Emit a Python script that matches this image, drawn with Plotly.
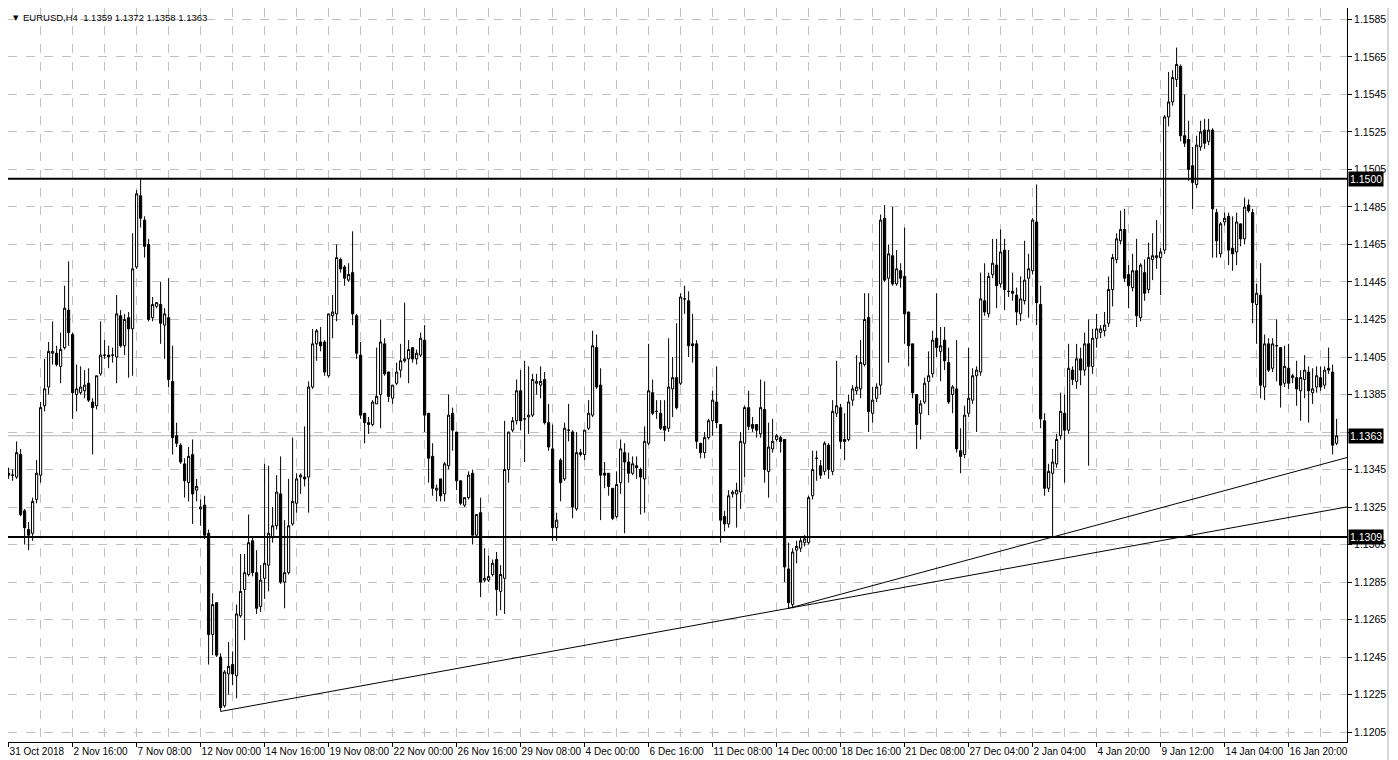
import plotly.graph_objects as go

# ---------------- data (EURUSD H4, one value per bar) ----------------
open_ = [
1.1343,1.1342,1.1341,1.1353,1.1323,1.1313,1.1311,1.1329,1.1342,1.1379,
1.1389,1.1407,1.1407,1.1400,1.1410,1.1430,1.1417,1.1385,1.1386,1.1387,
1.1391,1.1381,1.1379,1.1396,1.1406,1.1406,1.1406,1.1405,1.1427,1.1411,
1.1426,1.1420,1.1453,1.1491,1.1478,1.1465,1.1426,1.1432,1.1433,1.1422,
1.1426,1.1392,1.1363,1.1358,1.1348,1.1338,1.1353,1.1334,1.1324,1.1326,
1.1311,1.1257,1.1274,1.1245,1.1219,1.1236,1.1241,1.1235,1.1267,1.1281,
1.1289,1.1307,1.1290,1.1272,1.1287,1.1294,1.1309,1.1315,1.1332,1.1285,
1.1290,1.1316,1.1327,1.1341,1.1341,1.1341,1.1389,1.1412,1.1413,1.1413,
1.1395,1.1427,1.1428,1.1457,1.1453,1.1446,1.1450,1.1427,1.1406,1.1375,
1.1369,1.1369,1.1380,1.1385,1.1412,1.1397,1.1383,1.1391,1.1398,1.1403,
1.1404,1.1410,1.1404,1.1406,1.1414,1.1375,1.1352,1.1334,1.1340,1.1332,
1.1347,1.1375,1.1365,1.1339,1.1326,1.1330,1.1343,1.1310,1.1322,1.1286,
1.1286,1.1289,1.1297,1.1280,1.1287,1.1345,1.1366,1.1371,1.1387,1.1372,
1.1373,1.1374,1.1391,1.1390,1.1393,1.1370,1.1356,1.1314,1.1350,1.1340,
1.1366,1.1365,1.1324,1.1353,1.1353,1.1367,1.1374,1.1410,1.1390,1.1343,
1.1343,1.1335,1.1320,1.1338,1.1354,1.1349,1.1343,1.1347,1.1345,1.1340,
1.1359,1.1386,1.1376,1.1375,1.1368,1.1367,1.1388,1.1394,1.1391,1.1436,
1.1435,1.1412,1.1412,1.1359,1.1354,1.1362,1.1371,1.1381,1.1369,1.1320,
1.1316,1.1332,1.1332,1.1333,1.1359,1.1378,1.1369,1.1369,1.1364,1.1377,
1.1344,1.1356,1.1361,1.1362,1.1361,1.1292,1.1273,1.1302,1.1303,1.1306,
1.1306,1.1331,1.1351,1.1347,1.1344,1.1358,1.1344,1.1375,1.1378,1.1361,
1.1361,1.1382,1.1387,1.1388,1.1401,1.1426,1.1375,1.1383,1.1390,1.1479,
1.1447,1.1459,1.1444,1.1451,1.1448,1.1429,1.1412,1.1385,1.1375,1.1381,
1.1392,1.1396,1.1415,1.1408,1.1414,1.1402,1.1385,1.1388,1.1355,1.1353,
1.1375,1.1382,1.1395,1.1397,1.1435,1.1428,1.1449,1.1454,1.1444,1.1462,
1.1440,1.1440,1.1438,1.1428,1.1435,1.1447,1.1451,1.1477,1.1433,1.1371,
1.1335,1.1343,1.1348,1.1363,1.1375,1.1366,1.1398,1.1392,1.1404,1.1398,
1.1412,1.1400,1.1415,1.1418,1.1419,1.1423,1.1441,1.1457,1.1467,1.1473,
1.1449,1.1442,1.1451,1.1426,1.1450,1.1441,1.1457,1.1458,1.1458,1.1462,
1.1533,1.1541,1.1553,1.1560,1.1523,1.1521,1.1507,1.1497,1.1517,1.1526,
1.1520,1.1526,1.1482,1.1460,1.1477,1.1480,1.1463,1.1461,1.1476,1.1468,
1.1486,1.1482,1.1433,1.1438,1.1389,1.1412,1.1399,1.1411,1.1410,1.1391,
1.1399,1.1394,1.1394,1.1387,1.1393,1.1397,1.1386,1.1389,1.1394,1.1390,
1.1399,1.1397,1.1359]
high = [
1.1346,1.1345,1.1360,1.1356,1.1324,1.1317,1.1330,1.1350,1.1381,1.1404,
1.1413,1.1424,1.1411,1.1418,1.1443,1.1456,1.1418,1.1401,1.1400,1.1398,
1.1399,1.1383,1.1395,1.1424,1.1414,1.1411,1.1410,1.1438,1.1430,1.1428,
1.1429,1.1471,1.1494,1.1500,1.1480,1.1468,1.1437,1.1434,1.1445,1.1431,
1.1447,1.1411,1.1370,1.1359,1.1351,1.1357,1.1361,1.1340,1.1329,1.1331,
1.1313,1.1279,1.1274,1.1247,1.1238,1.1253,1.1248,1.1273,1.1300,1.1300,
1.1321,1.1309,1.1302,1.1294,1.1348,1.1347,1.1325,1.1342,1.1352,1.1318,
1.1340,1.1362,1.1343,1.1343,1.1368,1.1392,1.1420,1.1420,1.1421,1.1414,
1.1428,1.1438,1.1465,1.1458,1.1454,1.1455,1.1472,1.1428,1.1413,1.1375,
1.1373,1.1382,1.1410,1.1425,1.1415,1.1397,1.1390,1.1402,1.1412,1.1434,
1.1414,1.1410,1.1409,1.1418,1.1422,1.1375,1.1359,1.1337,1.1340,1.1349,
1.1385,1.1378,1.1365,1.1339,1.1330,1.1344,1.1345,1.1321,1.1330,1.1303,
1.1299,1.1297,1.1301,1.1294,1.1371,1.1365,1.1373,1.1393,1.1398,1.1403,
1.1400,1.1396,1.1396,1.1400,1.1397,1.1380,1.1369,1.1322,1.1351,1.1370,
1.1380,1.1366,1.1365,1.1356,1.1366,1.1382,1.1419,1.1417,1.1399,1.1349,
1.1343,1.1335,1.1344,1.1361,1.1359,1.1354,1.1352,1.1352,1.1346,1.1368,
1.1412,1.1393,1.1382,1.1382,1.1382,1.1415,1.1405,1.1423,1.1439,1.1443,
1.1440,1.1428,1.1414,1.1359,1.1365,1.1372,1.1387,1.1400,1.1369,1.1323,
1.1334,1.1334,1.1338,1.1365,1.1379,1.1387,1.1373,1.1369,1.1393,1.1392,
1.1370,1.1372,1.1364,1.1363,1.1361,1.1306,1.1303,1.1307,1.1309,1.1310,
1.1331,1.1355,1.1355,1.1350,1.1360,1.1359,1.1382,1.1403,1.1380,1.1375,
1.1385,1.1390,1.1406,1.1414,1.1439,1.1439,1.1389,1.1391,1.1481,1.1486,
1.1465,1.1485,1.1462,1.1455,1.1474,1.1429,1.1412,1.1385,1.1382,1.1394,
1.1408,1.1419,1.1439,1.1421,1.1421,1.1410,1.1390,1.1414,1.1367,1.1379,
1.1410,1.1399,1.1400,1.1450,1.1455,1.1450,1.1468,1.1468,1.1473,1.1468,
1.1462,1.1450,1.1442,1.1448,1.1467,1.1460,1.1479,1.1497,1.1443,1.1375,
1.1348,1.1356,1.1364,1.1386,1.1385,1.1412,1.1400,1.1412,1.1410,1.1418,
1.1425,1.1420,1.1428,1.1422,1.1429,1.1448,1.1460,1.1471,1.1483,1.1484,
1.1454,1.1460,1.1468,1.1455,1.1457,1.1466,1.1471,1.1478,1.1463,1.1534,
1.1557,1.1558,1.1570,1.1561,1.1545,1.1531,1.1517,1.1523,1.1531,1.1532,
1.1532,1.1527,1.1484,1.1477,1.1482,1.1482,1.1480,1.1482,1.1476,1.1490,
1.1489,1.1484,1.1444,1.1455,1.1417,1.1415,1.1415,1.1425,1.1410,1.1411,
1.1412,1.1396,1.1403,1.1398,1.1406,1.1400,1.1399,1.1400,1.1400,1.1400,
1.1410,1.1401,1.1372]
low = [
1.1340,1.1339,1.1340,1.1320,1.1305,1.1302,1.1307,1.1327,1.1338,1.1376,
1.1385,1.1401,1.1400,1.1391,1.1409,1.1411,1.1372,1.1376,1.1385,1.1383,
1.1381,1.1353,1.1377,1.1395,1.1404,1.1399,1.1402,1.1391,1.1410,1.1406,
1.1394,1.1395,1.1452,1.1474,1.1458,1.1424,1.1424,1.1431,1.1412,1.1404,
1.1389,1.1353,1.1357,1.1348,1.1330,1.1328,1.1316,1.1328,1.1315,1.1308,
1.1241,1.1246,1.1245,1.1216,1.1218,1.1225,1.1230,1.1223,1.1266,1.1254,
1.1288,1.1288,1.1268,1.1269,1.1276,1.1280,1.1306,1.1313,1.1284,1.1271,
1.1289,1.1315,1.1322,1.1332,1.1336,1.1322,1.1388,1.1403,1.1408,1.1395,
1.1394,1.1415,1.1424,1.1450,1.1443,1.1445,1.1422,1.1404,1.1372,1.1359,
1.1364,1.1368,1.1380,1.1367,1.1395,1.1381,1.1380,1.1390,1.1394,1.1402,
1.1391,1.1402,1.1401,1.1405,1.1365,1.1338,1.1331,1.1328,1.1328,1.1328,
1.1345,1.1355,1.1334,1.1326,1.1325,1.1329,1.1305,1.1309,1.1277,1.1285,
1.1285,1.1288,1.1267,1.1270,1.1268,1.1338,1.1365,1.1369,1.1366,1.1349,
1.1364,1.1373,1.1385,1.1383,1.1369,1.1355,1.1307,1.1307,1.1328,1.1339,
1.1360,1.1319,1.1323,1.1352,1.1350,1.1366,1.1373,1.1388,1.1318,1.1335,
1.1331,1.1318,1.1319,1.1332,1.1311,1.1338,1.1342,1.1340,1.1321,1.1322,
1.1358,1.1374,1.1372,1.1366,1.1360,1.1365,1.1373,1.1377,1.1390,1.1428,
1.1405,1.1402,1.1356,1.1351,1.1351,1.1361,1.1363,1.1367,1.1306,1.1312,
1.1314,1.1330,1.1314,1.1324,1.1341,1.1366,1.1365,1.1362,1.1362,1.1338,
1.1330,1.1354,1.1360,1.1354,1.1285,1.1271,1.1271,1.1295,1.1301,1.1304,
1.1305,1.1329,1.1339,1.1340,1.1342,1.1340,1.1342,1.1373,1.1356,1.1350,
1.1360,1.1379,1.1385,1.1383,1.1400,1.1365,1.1370,1.1381,1.1385,1.1445,
1.1402,1.1443,1.1443,1.1442,1.1412,1.1400,1.1383,1.1356,1.1361,1.1380,
1.1374,1.1394,1.1405,1.1392,1.1398,1.1380,1.1375,1.1354,1.1343,1.1351,
1.1373,1.1380,1.1365,1.1395,1.1427,1.1426,1.1447,1.1431,1.1442,1.1430,
1.1437,1.1435,1.1422,1.1424,1.1433,1.1426,1.1449,1.1422,1.1367,1.1331,
1.1333,1.1309,1.1346,1.1361,1.1338,1.1364,1.1390,1.1388,1.1390,1.1395,
1.1347,1.1396,1.1410,1.1415,1.1416,1.1421,1.1432,1.1455,1.1465,1.1445,
1.1431,1.1440,1.1421,1.1424,1.1435,1.1439,1.1446,1.1452,1.1438,1.1460,
1.1528,1.1539,1.1549,1.1520,1.1517,1.1499,1.1484,1.1495,1.1515,1.1516,
1.1518,1.1458,1.1458,1.1458,1.1475,1.1454,1.1451,1.1454,1.1464,1.1465,
1.1482,1.1423,1.1412,1.1383,1.1382,1.1397,1.1397,1.1392,1.1378,1.1389,
1.1388,1.1391,1.1379,1.1371,1.1383,1.1370,1.1380,1.1386,1.1387,1.1388,
1.1396,1.1353,1.1358]
close = [
1.1342,1.1342,1.1354,1.1321,1.1314,1.1310,1.1328,1.1343,1.1378,1.1388,
1.1408,1.1408,1.1401,1.1409,1.1431,1.1418,1.1386,1.1388,1.1389,1.1390,
1.1382,1.1378,1.1395,1.1406,1.1406,1.1405,1.1406,1.1428,1.1411,1.1425,
1.1420,1.1452,1.1492,1.1479,1.1464,1.1425,1.1433,1.1434,1.1423,1.1428,
1.1393,1.1362,1.1359,1.1349,1.1339,1.1352,1.1332,1.1336,1.1325,1.1310,
1.1257,1.1273,1.1246,1.1218,1.1237,1.1240,1.1236,1.1268,1.1280,1.1290,
1.1306,1.1290,1.1271,1.1286,1.1295,1.1311,1.1315,1.1333,1.1285,1.1290,
1.1315,1.1328,1.1340,1.1342,1.1340,1.1389,1.1412,1.1419,1.1411,1.1397,
1.1428,1.1429,1.1458,1.1452,1.1447,1.1449,1.1428,1.1407,1.1374,1.1370,
1.1370,1.1381,1.1384,1.1413,1.1396,1.1384,1.1390,1.1397,1.1403,1.1404,
1.1409,1.1404,1.1407,1.1415,1.1374,1.1351,1.1335,1.1335,1.1331,1.1348,
1.1374,1.1366,1.1339,1.1327,1.1330,1.1342,1.1310,1.1321,1.1285,1.1287,
1.1288,1.1295,1.1281,1.1289,1.1345,1.1365,1.1371,1.1387,1.1371,1.1372,
1.1374,1.1393,1.1392,1.1392,1.1370,1.1357,1.1314,1.1318,1.1338,1.1367,
1.1366,1.1325,1.1354,1.1354,1.1366,1.1375,1.1411,1.1389,1.1342,1.1342,
1.1336,1.1319,1.1337,1.1356,1.1349,1.1343,1.1348,1.1346,1.1341,1.1360,
1.1387,1.1375,1.1376,1.1367,1.1366,1.1389,1.1394,1.1378,1.1437,1.1436,
1.1411,1.1411,1.1360,1.1354,1.1362,1.1371,1.1382,1.1370,1.1318,1.1316,
1.1331,1.1333,1.1334,1.1360,1.1378,1.1368,1.1367,1.1366,1.1378,1.1345,
1.1357,1.1360,1.1363,1.1360,1.1293,1.1274,1.1301,1.1304,1.1307,1.1308,
1.1330,1.1345,1.1351,1.1342,1.1359,1.1345,1.1376,1.1379,1.1360,1.1360,
1.1381,1.1388,1.1389,1.1402,1.1425,1.1376,1.1382,1.1389,1.1478,1.1446,
1.1460,1.1444,1.1452,1.1447,1.1428,1.1411,1.1386,1.1369,1.1380,1.1391,
1.1395,1.1414,1.1410,1.1411,1.1403,1.1381,1.1389,1.1356,1.1352,1.1374,
1.1383,1.1395,1.1398,1.1436,1.1429,1.1448,1.1455,1.1443,1.1461,1.1441,
1.1440,1.1439,1.1429,1.1436,1.1446,1.1452,1.1478,1.1434,1.1372,1.1335,
1.1344,1.1349,1.1361,1.1376,1.1366,1.1399,1.1393,1.1404,1.1398,1.1412,
1.1400,1.1415,1.1420,1.1420,1.1422,1.1441,1.1458,1.1468,1.1473,1.1447,
1.1443,1.1451,1.1427,1.1454,1.1439,1.1458,1.1459,1.1459,1.1461,1.1533,
1.1541,1.1554,1.1561,1.1523,1.1519,1.1505,1.1498,1.1518,1.1525,1.1519,
1.1526,1.1484,1.1467,1.1476,1.1479,1.1462,1.1460,1.1477,1.1468,1.1485,
1.1483,1.1434,1.1439,1.1390,1.1412,1.1398,1.1412,1.1411,1.1390,1.1400,
1.1391,1.1395,1.1388,1.1394,1.1398,1.1387,1.1388,1.1395,1.1389,1.1398,
1.1398,1.1358,1.1363]

# x-axis labels, one every 16 bars
date_labels = ["31 Oct 2018", "2 Nov 16:00", "7 Nov 08:00", "12 Nov 00:00", "14 Nov 16:00",
               "19 Nov 08:00", "22 Nov 00:00", "26 Nov 16:00", "29 Nov 08:00", "4 Dec 00:00",
               "6 Dec 16:00", "11 Dec 08:00", "14 Dec 00:00", "18 Dec 16:00", "21 Dec 08:00",
               "27 Dec 04:00", "2 Jan 04:00", "4 Jan 20:00", "9 Jan 12:00", "14 Jan 04:00",
               "16 Jan 20:00"]
label_step = 16

# price axis ticks
price_ticks = [round(1.1205 + 0.002 * i, 4) for i in range(20)]

# drawn objects
levels = [1.1500, 1.1309]          # horizontal support/resistance lines
bid_price = 1.1363                 # current price line
trend1_bars = [53, 195]
trend1_prices = [1.1216, 1.1271]
trend2_bars = [195, 261]
trend2_prices = [1.1271, 1.1309]
title_text = "EURUSD,H4  1.1359 1.1372 1.1358 1.1363"

# ---------------- figure ----------------
# the page adds an 8px body margin, so the figure is 8px smaller each way
FIG_W, FIG_H = 1390, 752
n = len(close)
bars = list(range(n))
x_start = -0.15
x_end = x_start + 1339 / 4.0

fig = go.Figure()
fig.add_trace(go.Candlestick(
    x=bars, open=open_, high=high, low=low, close=close,
    increasing=dict(line=dict(color="black", width=1), fillcolor="white"),
    decreasing=dict(line=dict(color="black", width=1), fillcolor="black"),
    whiskerwidth=0, showlegend=False, hoverinfo="skip"))


def ray(bx, py):
    slope = (py[1] - py[0]) / (bx[1] - bx[0])
    return [bx[0], x_end], [py[0], py[0] + slope * (x_end - bx[0])]


for bx, py in [(trend1_bars, trend1_prices), (trend2_bars, trend2_prices)]:
    xs, ys = ray(bx, py)
    fig.add_trace(go.Scatter(x=xs, y=ys, mode="lines",
                             line=dict(color="black", width=1),
                             showlegend=False, hoverinfo="skip"))

shapes = [dict(type="line", xref="paper", x0=0, x1=1, yref="y", y0=bid_price, y1=bid_price,
               line=dict(color="#b4b4b4", width=1), layer="below")]
for lv in levels:
    shapes.append(dict(type="line", xref="paper", x0=0, x1=1, yref="y", y0=lv, y1=lv,
                       line=dict(color="black", width=2)))
# right scroll border
shapes.append(dict(type="line", xref="paper", yref="paper", x0=1.0306, x1=1.0306, y0=-0.03, y1=1.02,
                   line=dict(color="#d8d8d8", width=2)))

FAMILY = "Liberation Sans, Arial, sans-serif"
xfont = dict(family=FAMILY, size=10, color="black")
yfont = dict(family=FAMILY, size=10.5, color="black")

annotations = []
for lv in levels + [bid_price]:
    annotations.append(dict(xref="paper", x=1.0, xanchor="left", xshift=1, yref="y", y=lv,
                            yanchor="middle", text=f"{lv:.4f}", showarrow=False,
                            bgcolor="black", font=dict(family=FAMILY, size=10.5, color="white"),
                            borderpad=1))
annotations.append(dict(xref="paper", yref="paper", x=0, y=1, xanchor="left", yanchor="top",
                        xshift=3, yshift=-4, text="▼", showarrow=False,
                        font=dict(family="DejaVu Sans", size=7, color="black")))
annotations.append(dict(xref="paper", yref="paper", x=0, y=1, xanchor="left", yanchor="top",
                        xshift=13, yshift=-2, text=title_text, showarrow=False,
                        font=dict(family=FAMILY, size=9.5, color="black")))

# the 1.1365 label sits completely under the bid box in the reference
tick_text = ["" if abs(p - 1.1365) < 1e-9 else f"{p:.4f}" for p in price_ticks]

fig.update_layout(
    width=FIG_W, height=FIG_H,
    margin=dict(l=0, r=51, t=0, b=18),
    paper_bgcolor="white", plot_bgcolor="white",
    boxgap=0.22,
    shapes=shapes, annotations=annotations,
    font=xfont,
    xaxis=dict(
        range=[x_start, x_end], rangeslider=dict(visible=False),
        automargin=False, tickangle=0,
        tickmode="array",
        tickvals=[i * label_step for i in range(len(date_labels))],
        ticktext=date_labels,
        ticks="outside", ticklen=4, tickcolor="black",
        ticklabelposition="outside right",
        showgrid=True, gridcolor="#c0c0c0", griddash="dash", gridwidth=1,
        minor=dict(tickmode="linear", tick0=0, dtick=8, showgrid=True,
                   gridcolor="#c0c0c0", griddash="dash", gridwidth=1, ticks=""),
        showline=True, linecolor="black", linewidth=1, mirror=True,
        zeroline=False, tickfont=xfont,
    ),
    yaxis=dict(
        range=[1.11997, 1.15911], side="right", automargin=False,
        tickmode="array", tickvals=price_ticks,
        ticktext=tick_text,
        ticks="outside", ticklen=4, tickcolor="black",
        showgrid=True, gridcolor="#c0c0c0", griddash="dash", gridwidth=1,
        showline=True, linecolor="black", linewidth=1, mirror=True,
        zeroline=False, tickfont=yfont,
    ),
)

fig.write_html("out.html")
